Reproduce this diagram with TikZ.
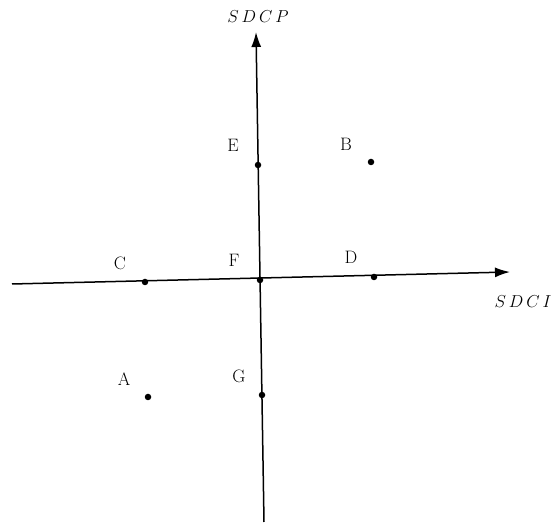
\documentclass[tikz,border=0pt]{standalone}
\usetikzlibrary{arrows.meta}
\begin{document}
\begin{tikzpicture}[x=1pt,y=-1pt,
  axis/.style={line width=1.5pt,-{Latex[length=15pt,width=10pt]}},
  pt/.style={circle,fill=black,inner sep=0pt,minimum size=6.5pt},
  lab/.style={font=\fontsize{18}{20}\selectfont,inner sep=0pt},
  axlab/.style={font=\fontsize{18}{20}\selectfont,inner sep=0pt}]
\useasboundingbox (0,0) rectangle (555,526);
% axis ends
\coordinate (xl) at (12,284);
\coordinate (xr) at (510,272);
\coordinate (yb) at (264,522);
\coordinate (yt) at (256,32);
\draw[axis] (xl) -- (xr);
\draw[axis] (yb) -- (yt);
% points
\node[pt] (E) at (258,165) {};
\node[pt] (F) at (260,280) {};
\node[pt] (G) at (262,395) {};
\node[pt] (C) at (145,282) {};
\node[pt] (D) at (374,277) {};
\node[pt] (B) at (371,162) {};
\node[pt] (A) at (148,397) {};
% labels
\node[lab] (lE) at (233,145) {E};
\node[lab] (lB) at (346,144) {B};
\node[lab] (lC) at (120,263) {C};
\node[lab] (lF) at (234,260) {F};
\node[lab] (lD) at (351,257) {D};
\node[lab] (lA) at (124,379) {A};
\node[lab] (lG) at (239,376) {G};
\node[axlab] (ly) at (258,17) {$S\,D\,C\,P$};
\node[axlab] (lx) at (523,302) {$S\,D\,C\,I$};
\end{tikzpicture}
\end{document}
